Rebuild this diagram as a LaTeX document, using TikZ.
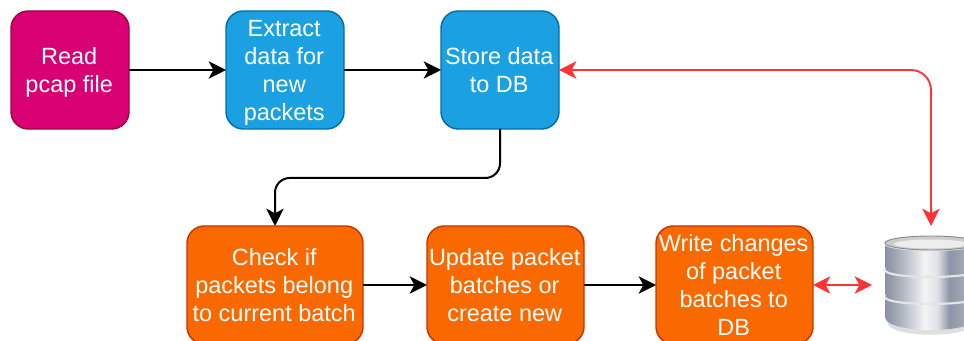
\documentclass[tikz,border=0pt]{standalone}
\usepackage{fontspec}
\setmainfont{Liberation Sans}
\usepackage{tikz}
\usetikzlibrary{arrows.meta}
\usetikzlibrary{positioning}
\definecolor{mypink}{HTML}{D80073}
\definecolor{mypinkline}{HTML}{A50040}
\definecolor{myblue}{HTML}{1BA1E2}
\definecolor{mybluelline}{HTML}{006EAF}
\definecolor{myorange}{HTML}{FA6800}
\definecolor{myorangeline}{HTML}{C73500}
\definecolor{myred}{HTML}{FF3333}
\pgfdeclarehorizontalshading{dbmetal}{100bp}{
  rgb(0bp)=(0.54,0.57,0.64); rgb(25bp)=(0.54,0.57,0.64);
  rgb(29.5bp)=(0.60,0.635,0.69); rgb(35bp)=(0.71,0.73,0.77);
  rgb(46.5bp)=(0.95,0.955,0.96); rgb(53.5bp)=(0.875,0.885,0.90);
  rgb(60bp)=(0.55,0.585,0.65); rgb(68.5bp)=(0.64,0.667,0.72);
  rgb(75bp)=(0.54,0.57,0.64); rgb(100bp)=(0.54,0.57,0.64)}
\def\tstrut{\rule{0pt}{17pt}}
\tikzset{
  >={Stealth[length=13pt,width=13pt,inset=3.5pt]},
  box/.style={draw,line width=1.1pt,rounded corners=13pt,align=center,text=white,inner sep=0pt,outer sep=0pt,
    font=\fontsize{17.6}{20.8}\selectfont,
    execute at end node={\rule[-4.2pt]{1.2pt}{0pt}\rule[-4.2pt]{0pt}{4.2pt}}},
  box read/.style={box,fill=mypink,draw=mypinkline,minimum width=88.5pt,minimum height=88.5pt},
  box store/.style={box,fill=myblue,draw=mybluelline,minimum width=88.5pt,minimum height=88.5pt},
  box batch/.style={box,fill=myorange,draw=myorangeline,minimum width=117.75pt,minimum height=88.5pt},
  connect/.style={->,line width=1.5pt,black,rounded corners=11pt},
  connect db/.style={line width=1.4pt,myred,rounded corners=15pt},
  db slice/.style={shading=dbmetal},
  db ridge/.style={draw=white!90!black,line width=1.6pt},
  db rim/.style={draw=black!45,line width=0.7pt}
}
\begin{document}
\begin{tikzpicture}[x=0.75pt,y=-0.75pt]
\useasboundingbox (0,0) rectangle (964,341);
% top row
\node[box read] (read) at (70,70) {\tstrut Read\\pcap file};
\node[box store,right=72.75pt of read] (extract) {\tstrut Extract\\data for\\new\\packets};
\node[box store,right=72.75pt of extract] (store) {\tstrut Store data\\to DB};
% bottom row
\node[box batch,minimum width=132pt] (check) at (275,285) {\tstrut Check if\\packets belong\\to current batch};
\node[box batch,right=48pt of check] (update) {\tstrut Update packet\\batches or\\create new};
\node[box batch,right=54pt of update] (write) {\tstrut Write changes\\of packet\\batches to\\DB};
\node[minimum width=88.5pt,minimum height=88.5pt,inner sep=0pt,outer sep=0pt] (db) at (931,285) {};
% database
\fill[black!25,opacity=0.5] (887,322) .. controls (887,339) and (975,339) .. (975,322) -- cycle;
\foreach \Top/\Bot/\Rad in {297/317/13,270/294/7,243/267/7}
{
  \shade[db slice] (885,\Top) -- (885,\Bot) .. controls (885,{\Bot+1.33*\Rad}) and (977,{\Bot+1.33*\Rad}) .. (977,\Bot)
    -- (977,\Top) .. controls (977,{\Top-9.3}) and (885,{\Top-9.3}) .. (885,\Top) -- cycle;
  \draw[db ridge] (885,\Top) .. controls (885,{\Top+9.3}) and (977,{\Top+9.3}) .. (977,\Top);
}
\draw[db rim,fill=black!20] (931,243) ellipse[x radius=46,y radius=7];
\fill[black!7] (931,244) ellipse[x radius=37,y radius=4.5];
% connectors
\draw[connect] (read) -- (extract);
\draw[connect] (extract) -- (store);
\draw[connect] (store.south) -- (500,178) -- (275,178) -- (check.north);
\draw[connect] (check) -- (update);
\draw[connect] (update) -- (write);
\draw[connect db,<->] (store.east) -- (931,70) -- (db.north);
\draw[connect db,<->] (write.east) -- (db.west);
\end{tikzpicture}
\end{document}
